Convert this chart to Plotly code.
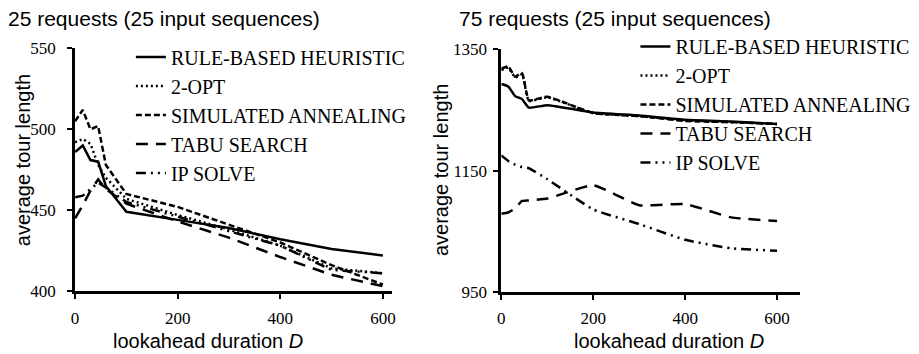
import plotly.graph_objects as go

# ---------------- data ----------------
names = ["RULE-BASED HEURISTIC", "2-OPT", "SIMULATED ANNEALING", "TABU SEARCH", "IP SOLVE"]
D = [0, 15, 30, 45, 60, 100, 200, 300, 400, 500, 600]

# 25 requests
left_rule = [486, 490, 481, 480, 465, 449, 444, 439, 432, 426, 422]
left_2opt = [492, 494, 491, 478, 470, 457, 447, 438, 428, 414, 411]
left_sa   = [505, 512, 500, 502, 478, 460, 452, 441, 430, 416, 404]
left_tabu = [445, 453, 462, 469, 463, 454, 443, 433, 421, 410, 403]
left_ip   = [458, 459, 463, 467, 464, 455, 446, 437, 428, 413, 411]

# 75 requests
right_rule = [1293, 1289, 1273, 1268, 1254, 1258, 1246, 1241, 1234, 1231, 1227]
right_2opt = [1316, 1320, 1304, 1309, 1265, 1271, 1245, 1240, 1233, 1230, 1227]
right_sa   = [1318, 1322, 1305, 1311, 1266, 1272, 1245, 1240, 1232, 1230, 1227]
right_tabu = [1079, 1081, 1088, 1100, 1101, 1104, 1126, 1093, 1095, 1073, 1067]
right_ip   = [1175, 1166, 1160, 1156, 1154, 1136, 1086, 1062, 1036, 1022, 1018]

left_ticks_y = [400, 450, 500, 550]
right_ticks_y = [950, 1150, 1350]
ticks_x = [0, 200, 400, 600]

dashes = ["solid", "2px,3px", "6px,3px", "12px,8px", "10px,5px,2px,5px,2px,5px"]

W, H = 919, 354
fig = go.Figure()

left = [left_rule, left_2opt, left_sa, left_tabu, left_ip]
right = [right_rule, right_2opt, right_sa, right_tabu, right_ip]

for name, ys, dash in zip(names, left, dashes):
    fig.add_trace(go.Scatter(x=D, y=ys, mode="lines", name=name,
                             line=dict(color="black", width=2.5, dash=dash),
                             xaxis="x", yaxis="y", legend="legend"))
for name, ys, dash in zip(names, right, dashes):
    fig.add_trace(go.Scatter(x=D, y=ys, mode="lines", name=name,
                             line=dict(color="black", width=2.5, dash=dash, shape="spline", smoothing=0.4),
                             xaxis="x2", yaxis="y2", legend="legend2"))

tickfont = dict(family="Liberation Serif", size=17, color="black")
axis_common = dict(showline=True, linecolor="black", linewidth=3, showgrid=False,
                   zeroline=False, ticks="outside", ticklen=5, tickwidth=2,
                   tickcolor="black", tickfont=tickfont)

def px_x(p):
    return p / W

def px_y(p):
    return 1 - p / H

fig.update_layout(
    width=W, height=H,
    margin=dict(l=0, r=0, t=0, b=0),
    paper_bgcolor="white", plot_bgcolor="white",
    xaxis=dict(domain=[px_x(71.7), px_x(391)], range=[0, 617], tickvals=ticks_x,
               anchor="y", ticklabelstandoff=5, **axis_common),
    yaxis=dict(domain=[px_y(298), px_y(41.7)], range=[400, 550], tickvals=left_ticks_y,
               anchor="x", ticklabelstandoff=8, **axis_common),
    xaxis2=dict(domain=[px_x(501.7), px_x(803)], range=[0, 650], tickvals=ticks_x,
                anchor="y2", ticklabelstandoff=4, **axis_common),
    yaxis2=dict(domain=[px_y(299), px_y(42.7)], range=[950, 1350], tickvals=right_ticks_y,
                anchor="x2", ticklabelstandoff=3, **axis_common),
    legend=dict(x=px_x(128), y=px_y(30), xanchor="left", yanchor="top",
                bgcolor="rgba(0,0,0,0)", tracegroupgap=0,
                font=dict(family="Liberation Serif", size=20, color="black")),
    legend2=dict(x=px_x(637), y=px_y(19), xanchor="left", yanchor="top",
                 bgcolor="rgba(0,0,0,0)", tracegroupgap=0,
                 font=dict(family="Liberation Serif", size=20, color="black")),
)

sans = "Liberation Sans"
ann = [
    dict(text="25 requests (25 input sequences)", x=px_x(2), y=px_y(10), xanchor="left", yanchor="middle", font_size=21),
    dict(text="75 requests (25 input sequences)", x=px_x(457), y=px_y(10), xanchor="left", yanchor="middle", font_size=21),
    dict(text="lookahead duration <i>D</i>", x=px_x(206), y=px_y(351), xanchor="center", yanchor="middle", font_size=20),
    dict(text="lookahead duration <i>D</i>", x=px_x(671), y=px_y(351), xanchor="center", yanchor="middle", font_size=20),
    dict(text="average tour length", x=px_x(20), y=px_y(160), xanchor="center", yanchor="middle", font_size=20, textangle=-90),
    dict(text="average tour length", x=px_x(441), y=px_y(170), xanchor="center", yanchor="middle", font_size=20, textangle=-90),
]
for a in ann:
    fs = a.pop("font_size")
    fig.add_annotation(xref="paper", yref="paper", showarrow=False,
                       font=dict(family=sans, size=fs, color="black"), **a)

fig.write_html("out.html")
